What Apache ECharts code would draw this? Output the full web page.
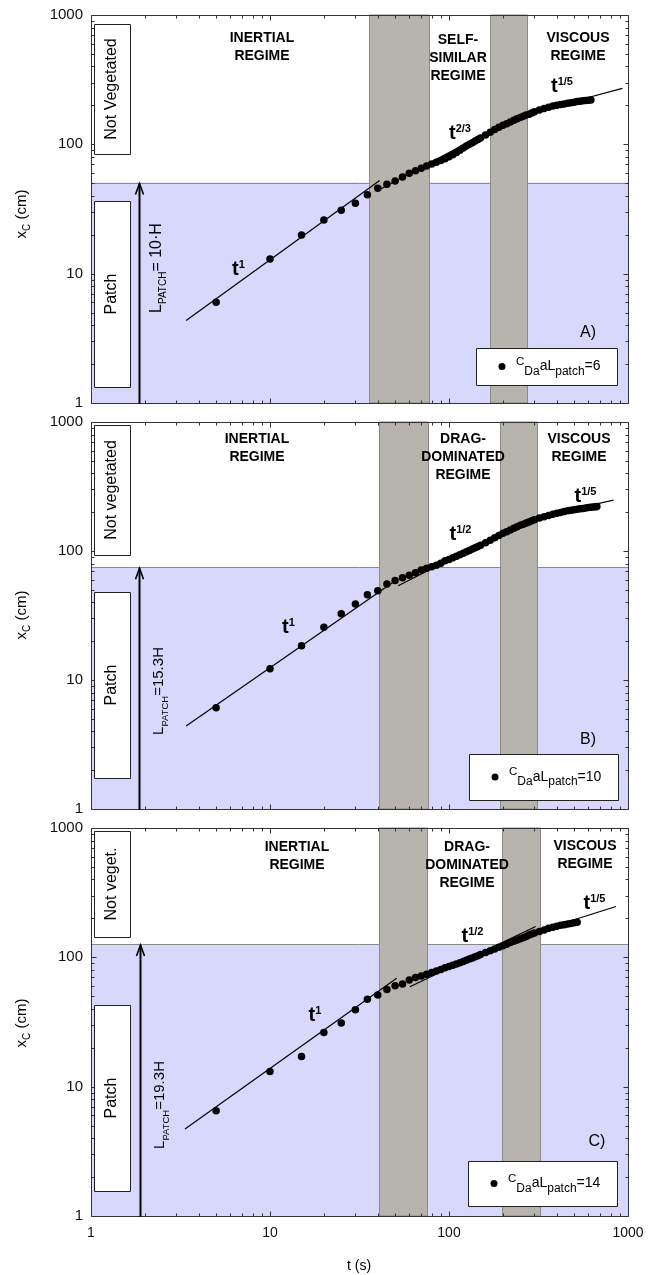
<!DOCTYPE html>
<html>
<head>
<meta charset="utf-8">
<script src="https://cdn.jsdelivr.net/npm/echarts@6/dist/echarts.min.js"></script>
<style>
  html, body { margin: 0; padding: 0; background: #fff; }
  #chart { width: 659px; height: 1275px; }
</style>
</head>
<body>
<div id="chart"></div>
<script>
// ---- measured front position x_C (cm) against time t (s), one set per patch density ----
const TIME_A = [5,10,15,20,25,30,35,40,45,50,55,60,65,70,75,80,85,90,95,100,105,110,115,120,125,130,135,140,145,150,
  160,170,180,190,200,210,220,230,240,250,260,270,280,290,300,
  320,340,360,380,400,420,440,460,480,500,520,540,560,580,600,620];
const XC_A = [6.0,13.0,19.9,26.0,30.9,35.0,40.8,45.7,49.1,52.0,56.0,59.7,62.6,65.3,68.0,70.5,72.8,75.0,77.5,80.0,
  83.0,86.5,90.0,93.5,97.0,100,103,106,109,112,
  118,124,130,135.5,140.5,144.5,149,153.5,158,161.5,165,168.5,171,175,178.5,
  184,189,193.5,197.5,200.5,203,205.5,208,210,212,214,215.5,217,218.5,219.5,220.5];

const TIME_B = [5,10,15,20,25,30,35,40,45,50,55,60,65,70,75,80,85,90,95,100,105,110,115,120,125,130,135,140,145,150,
  160,170,180,190,200,210,220,230,240,250,260,270,280,290,300,
  320,340,360,380,400,420,440,460,480,500,520,540,560,580,600,620,640,660,670];
const XC_B = [6.1,12.2,18.4,25.6,32.6,38.8,45.8,49.2,55.5,59.0,62.0,64.8,67.8,71.3,73.4,75.5,77.5,80.5,84.0,86.0,
  88.5,91.0,93.5,96.0,98.5,101,103.5,106,108.5,111,
  116,121,126.5,132,137,141,145.5,150,154,158,161,164.5,168,171.5,175,
  180,184,188.5,192.5,196,199,202,205,207,209,211,212.5,214,215.5,217,218,219,220,221];

const TIME_C = [5,10,15,20,25,30,35,40,45,50,55,60,65,70,75,80,85,90,95,100,105,110,115,120,125,130,135,140,145,150,
  160,170,180,190,200,210,220,230,240,250,260,270,280,290,300,
  320,340,360,380,400,420,440,460,480,500,520];
const XC_C = [6.5,13.1,17.1,26.2,31.1,39.4,47.4,51.2,56.5,60.2,62.1,66.7,69.8,71.8,74.0,76.5,78.5,80.5,83.0,85.0,
  87.0,89.0,91.0,93.0,95.0,97.0,99.0,101,103,105,
  109,112.5,116,119.5,123,126.5,130,133,136,139,142,145,148.5,151.5,154,
  158.5,163,167.5,171,174,177,179,181,183,185.5,187];

// ---- power-law guide lines, [t, x_C] end points ----
const FIT_INERTIAL = [[[3.4, 4.35], [41, 52.5]], [[3.4, 4.4], [52, 61]], [[3.35, 4.7], [51, 69]]];
const FIT_MIDDLE   = [[[40, 44], [240, 165]], [[52, 53.8], [282, 176]], [[60.5, 59.3], [305, 173]]];
const FIT_VISCOUS  = [[[450, 207], [930, 271]], [[450, 205], [830, 248]], [[400, 177], [857, 247]]];

// ---- regime transitions (t, s) and patch length (cm) ----
const TRANSITION_1 = [[35.9, 77], [40.6, 76], [40.6, 75.7]];
const TRANSITION_2 = [[170, 274], [192, 311], [199, 322]];
const PATCH_LENGTH = [50.6, 74.7, 126.8];
const ARROW_T = [1.86, 1.85, 1.88];

// ---- axis ticks and labels ----
const MAJOR_TICKS = [1, 10, 100, 1000];
const MINOR_TICKS = [2,3,4,5,6,7,8,9,20,30,40,50,60,70,80,90,200,300,400,500,600,700,800,900];

const PANEL_TAGS = ['A)', 'B)', 'C)'];
const LEGEND_VALUES = ['6', '10', '14'];
const NOT_VEG_LABELS = ['Not Vegetated', 'Not vegetated', 'Not veget.'];
const PATCH_LABELS = ['L_PATCH= 10·H', 'L_PATCH=15.3H', 'L_PATCH=19.3H'];
const MIDDLE_REGIME = ['SELF-\nSIMILAR\nREGIME', 'DRAG-\nDOMINATED\nREGIME', 'DRAG-\nDOMINATED\nREGIME'];
const MIDDLE_EXPONENT = ['2/3', '1/2', '1/2'];

// ---- layout ----
const FONT = '"Liberation Sans", Arial, Helvetica, sans-serif';
const GRID_LEFT = 91, GRID_WIDTH = 537;
const GRID_TOPS = [15, 422, 828];
const GRID_HEIGHTS = [388, 387, 388];
const PATCH_FILL = '#d8d8fc';
const BAND_FILL = '#b6b4ac';
const BAND_EDGE = '#8c8a84';
const FRAME = '#333';

const DATA = [
  TIME_A.map((t, i) => [t, XC_A[i]]),
  TIME_B.map((t, i) => [t, XC_B[i]]),
  TIME_C.map((t, i) => [t, XC_C[i]])
];

function backdropSeries(p) {
  return {
    type: 'custom', xAxisIndex: p, yAxisIndex: p, z: 1, silent: true,
    data: [[1, 1]],
    renderItem: (params, api) => {
      const lo = api.coord([1, 1]);
      const hi = api.coord([1000, 1000]);
      const top = api.coord([1, PATCH_LENGTH[p]])[1];
      const kids = [
        { type: 'rect', shape: { x: lo[0], y: top, width: hi[0] - lo[0], height: lo[1] - top },
          style: { fill: PATCH_FILL } },
        { type: 'line', shape: { x1: lo[0], y1: Math.round(top) + 0.5, x2: hi[0], y2: Math.round(top) + 0.5 },
          style: { stroke: '#8a8a8a', lineWidth: 1 } }
      ];
      [TRANSITION_1[p], TRANSITION_2[p]].forEach(b => {
        const a = Math.round(api.coord([b[0], 1])[0]) + 0.5;
        const c = Math.round(api.coord([b[1], 1])[0]) + 0.5;
        kids.push({ type: 'rect', shape: { x: a, y: hi[1], width: c - a, height: lo[1] - hi[1] },
          style: { fill: BAND_FILL, stroke: BAND_EDGE, lineWidth: 1 } });
      });
      return { type: 'group', children: kids };
    }
  };
}

function frameSeries(p) {
  return {
    type: 'custom', xAxisIndex: p, yAxisIndex: p, z: 6, silent: true,
    data: [[1, 1]],
    renderItem: (params, api) => {
      const lo = api.coord([1, 1]);
      const hi = api.coord([1000, 1000]);
      const x0 = Math.round(lo[0]) + 0.5, x1 = Math.round(hi[0]) + 0.5;
      const y0 = Math.round(hi[1]) + 0.5, y1 = Math.round(lo[1]) + 0.5;
      const kids = [{ type: 'rect', shape: { x: x0, y: y0, width: x1 - x0, height: y1 - y0 },
        style: { fill: null, stroke: FRAME, lineWidth: 1 } }];
      const add = (v, len) => {
        const px = Math.round(api.coord([v, 1])[0]) + 0.5;
        const py = Math.round(api.coord([1, v])[1]) + 0.5;
        kids.push({ type: 'line', shape: { x1: px, y1: y1, x2: px, y2: y1 - len }, style: { stroke: FRAME, lineWidth: 1 } });
        kids.push({ type: 'line', shape: { x1: px, y1: y0, x2: px, y2: y0 + len }, style: { stroke: FRAME, lineWidth: 1 } });
        kids.push({ type: 'line', shape: { x1: x0, y1: py, x2: x0 + len, y2: py }, style: { stroke: FRAME, lineWidth: 1 } });
        kids.push({ type: 'line', shape: { x1: x1, y1: py, x2: x1 - len, y2: py }, style: { stroke: FRAME, lineWidth: 1 } });
      };
      MAJOR_TICKS.forEach(v => add(v, 5));
      MINOR_TICKS.forEach(v => add(v, 3));
      // patch length arrow
      const ax = Math.round(api.coord([ARROW_T[p], 1])[0]) + 0.5;
      const ay = api.coord([ARROW_T[p], PATCH_LENGTH[p]])[1];
      kids.push({ type: 'line', shape: { x1: ax, y1: y1, x2: ax, y2: ay + 1 }, style: { stroke: '#000', lineWidth: 2 } });
      kids.push({ type: 'polyline', shape: { points: [[ax - 4, ay + 12], [ax, ay + 1], [ax + 4, ay + 12]] },
        style: { stroke: '#000', lineWidth: 1.6, fill: null } });
      return { type: 'group', children: kids };
    }
  };
}

function fitSeries(p, pts) {
  return {
    type: 'line', xAxisIndex: p, yAxisIndex: p, z: 4, silent: true,
    data: pts, symbol: 'none',
    lineStyle: { color: '#000', width: 1.2 }
  };
}

const grids = [], xAxes = [], yAxes = [], series = [];
for (let p = 0; p < 3; p++) {
  grids.push({ left: GRID_LEFT, top: GRID_TOPS[p], width: GRID_WIDTH, height: GRID_HEIGHTS[p], show: false });
  xAxes.push({
    type: 'log', logBase: 10, min: 1, max: 1000, gridIndex: p,
    axisLine: { show: false }, axisTick: { show: false }, splitLine: { show: false },
    axisLabel: { show: p === 2, fontFamily: FONT, fontSize: 14, color: '#111', margin: 10,
      formatter: v => String(Math.round(v)) }
  });
  yAxes.push({
    type: 'log', logBase: 10, min: 1, max: 1000, gridIndex: p,
    axisLine: { show: false }, axisTick: { show: false }, splitLine: { show: false },
    axisLabel: { fontFamily: FONT, fontSize: 15, color: '#111', margin: 8,
      formatter: v => String(Math.round(v)) }
  });
  series.push(backdropSeries(p));
  series.push(fitSeries(p, FIT_INERTIAL[p]));
  series.push(fitSeries(p, FIT_MIDDLE[p]));
  series.push(fitSeries(p, FIT_VISCOUS[p]));
  series.push({
    type: 'scatter', xAxisIndex: p, yAxisIndex: p, z: 5, silent: true,
    data: DATA[p], symbol: 'circle', symbolSize: 7.5,
    itemStyle: { color: '#000', opacity: 1 }
  });
  series.push(frameSeries(p));
}

// ---- text annotations ----
const graphic = [];
function text(x, y, str, style, extra) {
  graphic.push(Object.assign({ type: 'text', x, y, z: 100, silent: true,
    style: Object.assign({ text: str, fontFamily: FONT, fill: '#000', align: 'center', verticalAlign: 'middle' }, style)
  }, extra || {}));
}
function box(x, y, w, h) {
  graphic.push({ type: 'rect', z: 90, silent: true, shape: { x: x + 0.5, y: y + 0.5, width: w, height: h },
    style: { fill: '#fff', stroke: '#222', lineWidth: 1 } });
}
function powerLabel(x, y, exp) {
  text(x, y, '{t|t}{e|' + exp + '}', {
    rich: {
      t: { fontFamily: FONT, fontSize: 20, fontWeight: 'bold', lineHeight: 20 },
      e: { fontFamily: FONT, fontSize: 11, fontWeight: 'bold', lineHeight: 12, verticalAlign: 'top' }
    }
  });
}
const LABEL_RICH = {
  n: { fontFamily: FONT, fontSize: 14, lineHeight: 22 },
  c: { fontFamily: FONT, fontSize: 11.5, lineHeight: 14, verticalAlign: 'top' },
  s: { fontFamily: FONT, fontSize: 12, lineHeight: 14, verticalAlign: 'bottom' }
};

const NOT_VEG_BOX = [[24, 130], [425, 130], [831, 106]];
const PATCH_BOX_TOP = [201, 592, 1005];
const ARROW_LABEL = [[157, 268, 16, 10], [159, 691, 15, 9.5], [160, 1105, 15, 9.5]];
const INERTIAL_POS = [[262, 47], [257, 448], [297, 856]];
const MIDDLE_POS = [[458, 58.5], [463, 457], [467, 865]];
const VISCOUS_POS = [[578, 47], [579, 448], [585, 855.5]];
const T1_POS = [[238.5, 269], [288.5, 627.5], [315, 1015.5]];
const TM_POS = [[460, 133.5], [460.5, 534.5], [472.5, 936]];
const T5_POS = [[562, 86], [585.5, 496.5], [594.5, 903.5]];
const TAG_POS = [[588, 333], [588, 740], [597, 1142]];
const LEGEND_BOX = [[476, 348, 141, 37], [469, 754, 149, 46], [468, 1161, 149, 45]];
const YTITLE_Y = [214, 615, 1023];

for (let p = 0; p < 3; p++) {
  const nv = NOT_VEG_BOX[p];
  box(94, nv[0], 36, nv[1]);
  text(112, nv[0] + nv[1] / 2, NOT_VEG_LABELS[p], { fontSize: 16 }, { rotation: Math.PI / 2 });
  box(94, PATCH_BOX_TOP[p], 36, 186);
  text(112, PATCH_BOX_TOP[p] + 93, 'Patch', { fontSize: 16 }, { rotation: Math.PI / 2 });

  const al = ARROW_LABEL[p];
  const parts = PATCH_LABELS[p].split(/_PATCH/);
  text(al[0], al[1], '{n|' + parts[0] + '}{s|PATCH}{n|' + parts[1] + '}', {
    rich: {
      n: { fontFamily: FONT, fontSize: al[2], lineHeight: 22 },
      s: { fontFamily: FONT, fontSize: al[3], lineHeight: 12, verticalAlign: 'bottom' }
    }
  }, { rotation: Math.PI / 2 });

  const bold = { fontSize: 14, fontWeight: 'bold', lineHeight: 18 };
  text(INERTIAL_POS[p][0], INERTIAL_POS[p][1], 'INERTIAL\nREGIME', bold);
  text(MIDDLE_POS[p][0], MIDDLE_POS[p][1], MIDDLE_REGIME[p], bold);
  text(VISCOUS_POS[p][0], VISCOUS_POS[p][1], 'VISCOUS\nREGIME', bold);

  powerLabel(T1_POS[p][0], T1_POS[p][1], '1');
  powerLabel(TM_POS[p][0], TM_POS[p][1], MIDDLE_EXPONENT[p]);
  powerLabel(T5_POS[p][0], T5_POS[p][1], '1/5');

  text(TAG_POS[p][0], TAG_POS[p][1], PANEL_TAGS[p], { fontSize: 16 });

  const lb = LEGEND_BOX[p];
  box(lb[0], lb[1], lb[2], lb[3]);
  graphic.push({ type: 'circle', z: 95, silent: true,
    shape: { cx: lb[0] + 26, cy: lb[1] + lb[3] / 2, r: 3.5 }, style: { fill: '#000' } });
  text(lb[0] + 40, lb[1] + lb[3] / 2, '{c|C}{s|Da}{n|aL}{s|patch}{n|=' + LEGEND_VALUES[p] + '}',
    { align: 'left', rich: LABEL_RICH });

  text(22, YTITLE_Y[p], '{n|x}{s|C}{n| (cm)}', {
    rich: {
      n: { fontFamily: FONT, fontSize: 15, lineHeight: 20 },
      s: { fontFamily: FONT, fontSize: 10, lineHeight: 12, verticalAlign: 'bottom' }
    }
  }, { rotation: Math.PI / 2 });
}
text(359, 1266, 't (s)', { fontSize: 14 });

const chart = echarts.init(document.getElementById('chart'), null, { renderer: 'canvas' });
chart.setOption({
  animation: false,
  backgroundColor: '#fff',
  grid: grids,
  xAxis: xAxes,
  yAxis: yAxes,
  series: series,
  graphic: graphic
});
</script>
</body>
</html>
